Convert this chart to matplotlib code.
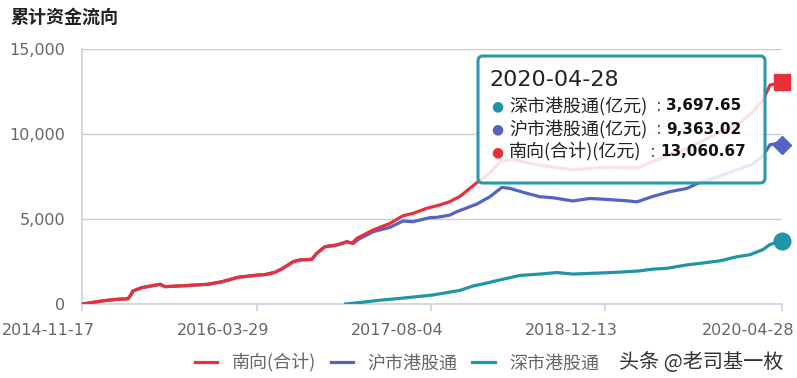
import matplotlib
matplotlib.use("Agg")
import matplotlib.pyplot as plt
import matplotlib.dates as mdates
import matplotlib.transforms as mtransforms
from matplotlib.patches import FancyBboxPatch
from matplotlib.ticker import FuncFormatter
import pandas as pd

CJK = ["Noto Sans CJK SC", "DejaVu Sans"]

# cumulative southbound flows, 亿元
south_dates = ["2014-11-17", "2015-01-21", "2015-02-27", "2015-03-28", "2015-04-07", "2015-04-10",
               "2015-05-06", "2015-06-27", "2015-07-11", "2015-09-06", "2015-11-10", "2015-12-20",
               "2016-02-03", "2016-03-29", "2016-04-20", "2016-05-18", "2016-06-10", "2016-07-09",
               "2016-07-28", "2016-08-31", "2016-09-14", "2016-10-07", "2016-11-10", "2016-12-09",
               "2016-12-23", "2017-01-06", "2017-02-21", "2017-04-10", "2017-05-17", "2017-06-14",
               "2017-07-24", "2017-08-30", "2017-09-27", "2017-10-26", "2017-12-16", "2018-01-19",
               "2018-02-17", "2018-03-23", "2018-06-10", "2018-09-12", "2018-12-18", "2019-03-13",
               "2019-04-27", "2019-06-15", "2019-08-02", "2019-09-08", "2019-11-04", "2019-12-22",
               "2020-02-05", "2020-03-05", "2020-03-25", "2020-04-14", "2020-04-28"]
south_vals = [0, 200, 280, 310, 600, 760, 960, 1160, 1020, 1080, 1160, 1310,
              1570, 1700, 1730, 1860, 2100, 2490, 2590, 2630, 2980, 3370, 3470, 3660,
              3570, 3860, 4350, 4740, 5190, 5330, 5630, 5830, 6020, 6330, 7190, 7700,
              8370, 8510, 8150, 7900, 8050, 8000, 8380, 8760, 9150, 9520, 10120, 10500,
              11300, 12000, 12880, 12980, 13060.67]

hu_dates = ["2014-11-17", "2015-01-21", "2015-02-27", "2015-03-28", "2015-04-07", "2015-04-10",
            "2015-05-06", "2015-06-27", "2015-07-11", "2015-09-06", "2015-11-10", "2015-12-20",
            "2016-02-03", "2016-03-29", "2016-04-20", "2016-05-18", "2016-06-10", "2016-07-09",
            "2016-07-28", "2016-08-31", "2016-09-14", "2016-10-07", "2016-11-10", "2016-12-09",
            "2016-12-27", "2017-01-10", "2017-02-21", "2017-04-10", "2017-05-17", "2017-06-14",
            "2017-08-02", "2017-08-22", "2017-09-27", "2017-10-17", "2017-12-13", "2018-01-19",
            "2018-02-22", "2018-03-17", "2018-05-04", "2018-06-10", "2018-07-17", "2018-09-12",
            "2018-10-30", "2018-12-18", "2019-02-12", "2019-03-13", "2019-04-27", "2019-06-15",
            "2019-08-02", "2019-09-02", "2019-11-04", "2020-02-05", "2020-03-05", "2020-03-25",
            "2020-04-14", "2020-04-28"]
hu_vals = [0, 200, 280, 310, 600, 760, 960, 1160, 1020, 1080, 1160, 1310,
           1570, 1700, 1730, 1860, 2100, 2490, 2590, 2630, 2980, 3370, 3470, 3660,
           3560, 3800, 4250, 4510, 4880, 4840, 5080, 5100, 5230, 5430, 5880, 6310,
           6860, 6800, 6510, 6310, 6250, 6060, 6210, 6150, 6070, 6010, 6330, 6610,
           6800, 7100, 7530, 8230, 8730, 9370, 9440, 9363.02]

shen_dates = ["2016-12-05", "2017-01-20", "2017-03-21", "2017-05-08", "2017-06-25", "2017-08-10",
              "2017-09-27", "2017-10-26", "2017-12-02", "2017-12-30", "2018-02-17", "2018-04-14",
              "2018-06-10", "2018-07-28", "2018-09-12", "2018-10-30", "2018-12-18", "2019-02-12",
              "2019-03-21", "2019-04-27", "2019-06-06", "2019-08-02", "2019-09-08", "2019-11-04",
              "2019-12-22", "2020-01-28", "2020-03-05", "2020-03-25", "2020-04-14", "2020-04-28"]
shen_vals = [0, 100, 240, 330, 430, 530, 700, 800, 1060, 1180, 1420, 1680,
             1760, 1850, 1760, 1800, 1840, 1900, 1950, 2050, 2100, 2300, 2390, 2540,
             2780, 2900, 3200, 3500, 3640, 3697.65]

tick_dates = ["2014-11-17", "2016-03-29", "2017-08-04", "2018-12-13", "2020-04-28"]
y_ticks = [0, 5000, 10000, 15000]
series_names = ["南向(合计)", "沪市港股通", "深市港股通"]

RED, BLUE, TEAL = "#e8303a", "#5464c4", "#2194a8"

fig = plt.figure(figsize=(7.97, 3.78), dpi=100)
ax = fig.add_axes([82 / 797, 74 / 378, 700 / 797, 255 / 378])

l_shen, = ax.plot(pd.to_datetime(shen_dates), shen_vals, color=TEAL, lw=2.3, zorder=3)
l_hu, = ax.plot(pd.to_datetime(hu_dates), hu_vals, color=BLUE, lw=2.3, zorder=4)
l_south, = ax.plot(pd.to_datetime(south_dates), south_vals, color=RED, lw=2.3, zorder=5)

# end markers
ax.plot(pd.to_datetime(south_dates[-1:]), south_vals[-1:], "s", color=RED, ms=11, clip_on=False, zorder=6)
ax.plot(pd.to_datetime(hu_dates[-1:]), hu_vals[-1:], "D", color=BLUE, ms=9.5, clip_on=False, zorder=6)
ax.plot(pd.to_datetime(shen_dates[-1:]), shen_vals[-1:], "o", color=TEAL, ms=12, clip_on=False, zorder=6)

ax.set_xlim(pd.Timestamp(tick_dates[0]), pd.Timestamp(tick_dates[-1]))
ax.set_ylim(0, 15000)
ax.set_yticks(y_ticks)
ax.yaxis.set_major_formatter(FuncFormatter(lambda v, p: f"{int(v):,}"))
ax.set_xticks(pd.to_datetime(tick_dates))
ax.xaxis.set_major_formatter(mdates.DateFormatter("%Y-%m-%d"))

ax.grid(axis="y", color="#cccccc", lw=1)
ax.set_axisbelow(True)
for s in ["top", "right"]:
    ax.spines[s].set_visible(False)
for s in ["left", "bottom"]:
    ax.spines[s].set_color("#c8d2e0")
    ax.spines[s].set_linewidth(1.2)
ax.tick_params(axis="y", length=0, pad=12, labelsize=11.5, labelcolor="#666666")
ax.tick_params(axis="x", length=5, width=1.2, color="#c8d2e0", pad=9, labelsize=11.5, labelcolor="#666666")
shift = mtransforms.ScaledTranslation(-0.34, 0, fig.dpi_scale_trans)
for lab in ax.get_xticklabels():
    lab.set_transform(lab.get_transform() + shift)

fig.text(10 / 797, 1 - 17 / 378, "累计资金流向", family=CJK, fontsize=13, fontweight="bold",
         color="#222222", va="center", ha="left")

fig.legend(handles=[l_south, l_hu, l_shen], labels=series_names,
           loc="center", bbox_to_anchor=(397 / 797, 1 - 363 / 378), ncol=3, frameon=False,
           prop={"family": CJK, "size": 13}, handlelength=1.25, handletextpad=0.8,
           columnspacing=0.8, labelcolor="#666666")

fig.text(619 / 797, 1 - 362 / 378, "头条 @老司基一枚", family=CJK, fontsize=14.5,
         color="#333333", va="center", ha="left")

# tooltip box
box = FancyBboxPatch((478, 378 - 183), 287, 127, boxstyle="round,pad=0,rounding_size=5",
                     transform=mtransforms.IdentityTransform(), facecolor=(1, 1, 1, 0.86),
                     edgecolor="#2a98ab", linewidth=2.2, zorder=10)
fig.patches.append(box)


def fx(x):
    return x / 797


def fy(y):
    return 1 - y / 378


fig.text(fx(489), fy(80), "2020-04-28", fontsize=16, color="#222222", va="center", ha="left", zorder=11)
rows = [("深市港股通(亿元)", "3,697.65", TEAL, 106, 666),
        ("沪市港股通(亿元)", "9,363.02", BLUE, 129, 666),
        ("南向(合计)(亿元)", "13,060.67", RED, 152, 660)]
for label, val, col, y, xv in rows:
    fig.text(fx(497), fy(y), "●", color=col, fontsize=10, va="center", ha="center", zorder=11)
    fig.text(fx(509), fy(y), label, family=CJK, fontsize=13, color="#222222", va="center", ha="left", zorder=11)
    fig.text(fx(xv - 10), fy(y), ":", fontsize=12, color="#555555", va="center", ha="left", zorder=11)
    fig.text(fx(xv), fy(y), val, fontsize=11, fontweight="bold", color="#111111", va="center", ha="left", zorder=11)

fig.savefig("out.png", dpi=100)
